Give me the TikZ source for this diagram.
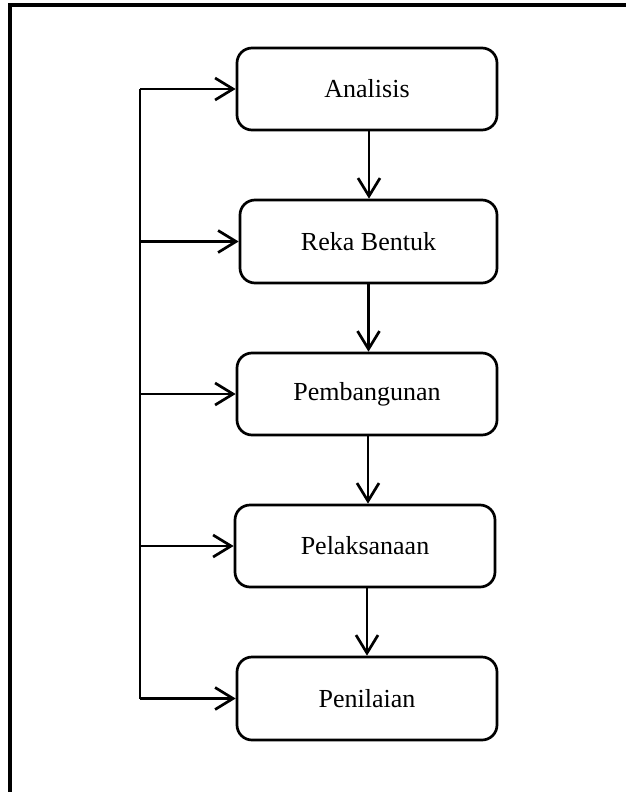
\documentclass[tikz,border=0pt]{standalone}
\usepackage{fontspec}
\setmainfont{Liberation Serif}
\usetikzlibrary{arrows.meta}
\begin{document}
\begin{tikzpicture}[x=1pt,y=-1pt,
  stage/.style={draw, line width=2.7pt, rounded corners=15pt,
    minimum width=260pt, minimum height=82pt, inner sep=0pt,
    font=\fontsize{26}{30}\selectfont},
  flow/.style={line width=2.7pt,
    -{Straight Barb[length=18pt,width=22pt,line width=2.7pt]}},
  link/.style={line width=2.7pt}]
  \useasboundingbox (0,0) rectangle (626,792);
  % open frame: top and left edges only
  \draw[line width=3.2pt] (10,792) -- (10,5) -- (626,5);
  % stages
  \node[stage] (A)  at (367,89)    {Analisis};
  \node[stage, minimum width=257pt, minimum height=83pt] (R) at (368.5,241.5) {Reka Bentuk};
  \node[stage] (Pm) at (367,394)   {Pembangunan};
  \node[stage] (Pl) at (365,546)   {Pelaksanaan};
  \node[stage, minimum height=83pt] (Pn) at (367,698.5) {Penilaian};
  % downward flow
  \draw[flow] ([xshift=2pt]A.south) -- ([xshift=2pt]A.south |- R.north);
  \draw[flow] (R.south)  -- (R.south  |- Pm.north);
  \draw[flow] ([xshift=1pt]Pm.south) -- ([xshift=1pt]Pm.south |- Pl.north);
  \draw[flow] ([xshift=2pt]Pl.south) -- ([xshift=2pt]Pl.south |- Pn.north);
  % feedback spine on the left
  \coordinate (top) at (140,89);
  \coordinate (bot) at (140,698.5);
  \draw[link] (top) -- (bot);
  \draw[flow] (top) -- (A.west);
  \draw[flow] (R.west  -| top) -- (R.west);
  \draw[flow] (Pm.west -| top) -- (Pm.west);
  \draw[flow] (Pl.west -| top) -- (Pl.west);
  \draw[flow] (bot) -- (Pn.west);
\end{tikzpicture}
\end{document}
